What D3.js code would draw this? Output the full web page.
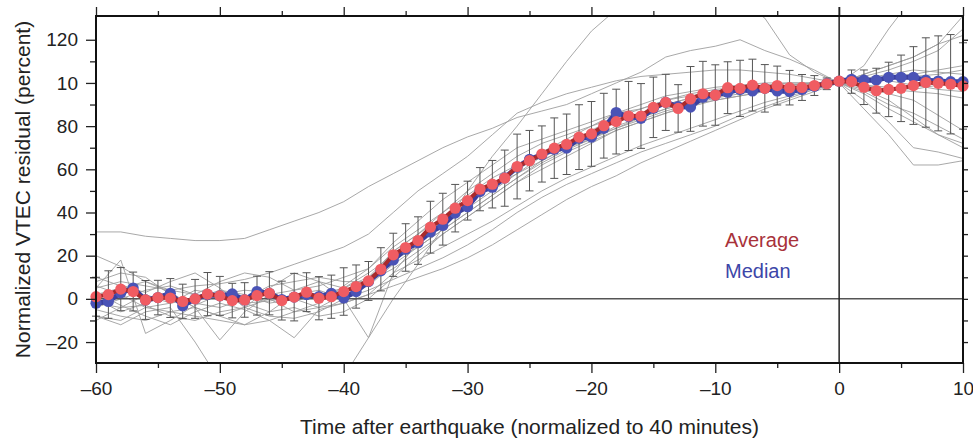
<!DOCTYPE html>
<html>
<head>
<meta charset="utf-8">
<script src="https://d3js.org/d3.v7.min.js"></script>
<style>
  body { margin: 0; background: #fff; }
  svg { display: block; font-family: 'Liberation Sans', Arial, sans-serif; }
</style>
</head>
<body>
<div id="holder"></div>
<script>
  // Minutes for average / median points
  const minutes = [-60,-59,-58,-57,-56,-55,-54,-53,-52,-51,-50,-49,-48,-47,-46,-45,-44,-43,-42,-41,
    -40,-39,-38,-37,-36,-35,-34,-33,-32,-31,-30,-29,-28,-27,-26,-25,-24,-23,-22,-21,
    -20,-19,-18,-17,-16,-15,-14,-13,-12,-11,-10,-9,-8,-7,-6,-5,-4,-3,-2,-1,
    0,1,2,3,4,5,6,7,8,9,10];

  const average = [1,2,4.5,3.4,-0.5,0.6,0.4,-1.2,0,2.2,1.4,-0.8,-0.5,1.5,2.6,-0.8,0.8,3.1,0.3,1,
    3.4,5.7,8.3,13.7,20.4,23.8,27,33.2,36.9,42,45.5,50.8,53.1,55.9,61.3,64,67.1,69.8,71.6,74.9,
    76.4,80.2,82.1,84.7,84.7,88.7,91,88.2,92.6,95,94.4,97.8,97.5,99,97.5,98.8,97.8,97.9,98.8,99.6,
    100.8,100.6,98,96.4,97,97.5,98.8,100.2,99.8,99.4,98.6];

  const median = [-2,-1.2,2.8,5,-0.5,0.6,2.6,-3.2,0,2,1.4,2.3,-0.5,3.4,2.6,-0.3,0.8,2,1,2.5,
    0.4,3.4,8,13,18,23,26,31,34,39.7,42.7,49.7,51.7,56,61,64.6,66.7,69.3,69.8,74.4,
    74.9,79,86.3,84.4,83.6,88.3,91,89,88.8,93.4,94.4,95.7,97,96.3,97.5,96.3,96,97,98.5,99.7,
    100.8,101.7,101.3,101.3,102.6,102.6,102.6,101.3,100.9,100.6,100.6];

  const errors = [9,11,10,9,9,8,9,8,9,10,9,8,8,9,10,9,11,9,10,10,
    11,10,9,10,10,11,11,12,12,11,9,10,11,13,15,14,13,14,14,15,
    15,15,15,16,15,14,13,11,15,15,14,12,13,12,11,9,8,6,4.6,2.7,
    1,5.4,8,10.4,12.6,15.4,18,20.7,22,23,20];

  // Individual events, sampled every 2 minutes
  const eventMinutes = [-60,-58,-56,-54,-52,-50,-48,-46,-44,-42,-40,-38,-36,-34,-32,-30,-28,-26,
    -24,-22,-20,-18,-16,-14,-12,-10,-8,-6,-4,-2,0,2,4,6,8,10];

  const ev01 = [31,31,29,28,27,27,28,32,36,40,45,52,58,64,70,75,79,84,87,90,95,100,105,112,115,117,120,115,111,106,100,104,108,112,118,122];
  const ev02 = [5,8,6,4,6,7,9,12,16,20,24,30,40,50,58,66,76,86,91,95,98,101,103,104,105,106,106,105,104,102,100,101,103,104,106,108];
  const ev03 = [-8,-12,-6,-4,-20,-38,-50,-55,-55,-50,-36,-18,0,16,33,50,66,80,95,110,124,134,140,144,146,143,138,130,113,105,100,96,90,86,80,74];
  const ev04 = [20,15,8,4,2,0,-2,-1,1,2,4,8,14,22,30,38,46,54,62,68,73,78,82,86,89,92,94,96,97,99,100,97,92,84,76,70];
  const ev05 = [5,18,-16,-10,-3,2,4,3,-1,2,5,10,18,24,32,40,48,56,63,69,74,79,84,88,91,94,96,97,98,99,100,99,98,97,99,101];
  const ev06 = [-5,-8,-10,-6,-4,-8,-12,-10,-6,-4,-2,2,6,10,14,19,25,32,39,46,52,57,63,68,73,78,83,88,92,96,100,102,104,106,105,104];
  const ev07 = [-2,-4,-3,-8,-10,-6,-4,-8,-9,-6,0,4,9,14,19,25,32,40,47,53,58,63,68,72,76,80,85,89,93,97,100,98,95,92,85,78];
  const ev08 = [3,-3,-8,-12,-6,-2,-5,-10,-18,-5,-2,2,12,18,24,30,36,43,50,56,61,66,71,75,79,83,87,91,94,97,100,101,102,103,104,106];
  const ev09 = [2,5,8,3,-4,-19,-6,2,4,8,5,12,20,28,36,44,52,60,66,70,74,80,84,88,91,94,96,97,98,99,100,88,76,62,62,64];
  const ev10 = [10,6,3,8,12,5,-4,5,12,8,0,-18,12,26,34,42,50,58,66,72,78,84,86,90,93,95,97,98,99,99,100,92,82,70,68,65];
  const ev11 = [-4,0,4,6,2,8,12,10,4,6,10,14,24,32,40,48,56,62,68,74,80,86,90,94,96,98,99,100,100,100,100,95,88,82,76,72];
  const ev12 = [8,12,10,2,-2,-4,0,6,8,10,8,8,22,30,40,50,58,66,72,76,80,84,88,92,95,97,98,98,99,100,100,108,125,140,150,150];
  const ev13 = [0,-6,-2,2,-4,-8,-4,0,-6,-2,6,14,26,36,46,54,62,70,74,78,82,86,88,92,94,96,97,98,99,100,100,104,108,112,118,131];
  const ev14 = [-10,-4,2,-2,4,2,-2,-6,2,4,0,10,22,30,38,46,52,58,64,70,76,82,86,90,93,96,98,99,100,100,100,103,106,110,115,125];
  const ev15 = [6,2,-4,-2,0,4,2,-2,0,-4,2,6,16,24,32,40,48,56,64,70,75,79,83,87,90,92,94,96,98,99,100,102,101,99,97,96];
  const ev16 = [-8,-10,-4,-6,-8,-10,-12,-6,-4,-8,-6,0,10,20,30,38,46,54,60,66,72,78,82,86,90,93,95,97,98,99,100,99,97,96,95,93];

  const events = [ev01,ev02,ev03,ev04,ev05,ev06,ev07,ev08,ev09,ev10,ev11,ev12,ev13,ev14,ev15,ev16];

  const yTicks = [-20,0,20,40,60,80,100,120];
  const yTickLabels = ['\u201320','0','20','40','60','80','10','120'];
  const yMinor = [-10,10,30,50,70,90,110];
  const yRight = [-20,-10,0,10,20,30,40,50,60,70,80,90,100,110,120];
  const xTicks = [-60,-50,-40,-30,-20,-10,0,10];
  const xMinor = [-55,-45,-35,-25,-15,-5,5];

  const w = 973;
  const h = 440;
  const margin = { left: 96, right: 10, top: 16, bottom: 77 };

  const xScale = d3.scaleLinear().domain([-60, 10]).range([margin.left, w - margin.right]);
  const yScale = d3.scaleLinear().domain([-29.7, 131]).range([h - margin.bottom, margin.top]);

  const svg = d3.select('#holder').append('svg').attr('width', w).attr('height', h);

  svg.append('clipPath').attr('id', 'plot-clip')
    .append('rect')
    .attr('x', margin.left).attr('y', margin.top)
    .attr('width', xScale(10) - margin.left)
    .attr('height', yScale(-29.7) - margin.top);

  // Individual traces
  const traceLine = d3.line()
    .x((d, i) => xScale(eventMinutes[i]))
    .y((d) => yScale(d));

  svg.append('g')
    .attr('clip-path', 'url(#plot-clip)')
    .selectAll('path')
    .data(events)
    .enter()
    .append('path')
    .attr('d', traceLine)
    .attr('fill', 'none')
    .attr('stroke', '#9e9e9e')
    .attr('stroke-width', 0.9);

  // Zero lines
  svg.append('line')
    .attr('x1', xScale(-60)).attr('x2', xScale(10))
    .attr('y1', yScale(0)).attr('y2', yScale(0))
    .attr('stroke', '#555').attr('stroke-width', 1.5);

  svg.append('line')
    .attr('x1', xScale(0)).attr('x2', xScale(0))
    .attr('y1', yScale(-29.7)).attr('y2', margin.top - 9)
    .attr('stroke', '#222').attr('stroke-width', 1.5);

  // Error bars
  const bars = svg.append('g').attr('stroke', '#555').attr('stroke-width', 1);
  minutes.forEach((m, i) => {
    const x = xScale(m);
    const lo = yScale(average[i] - errors[i]);
    const hi = yScale(average[i] + errors[i]);
    bars.append('line').attr('x1', x).attr('x2', x).attr('y1', lo).attr('y2', hi);
    bars.append('line').attr('x1', x - 4).attr('x2', x + 4).attr('y1', lo).attr('y2', lo);
    bars.append('line').attr('x1', x - 4).attr('x2', x + 4).attr('y1', hi).attr('y2', hi);
  });

  // Median then average
  const seriesLine = d3.line()
    .x((d, i) => xScale(minutes[i]))
    .y((d) => yScale(d));

  function drawSeries(values, lineColor, dotColor, lineWidth) {
    svg.append('path')
      .datum(values)
      .attr('d', seriesLine)
      .attr('fill', 'none')
      .attr('stroke', lineColor)
      .attr('stroke-width', lineWidth)
      .attr('stroke-linejoin', 'round');

    svg.append('g')
      .selectAll('circle')
      .data(values)
      .enter()
      .append('circle')
      .attr('cx', (d, i) => xScale(minutes[i]))
      .attr('cy', (d) => yScale(d))
      .attr('r', 5.6)
      .attr('fill', dotColor);
  }

  drawSeries(median, '#3a3f9e', '#4a53b6', 5);
  drawSeries(average, '#a82a2c', '#f05c62', 4);

  // Axes
  function styleAxis(g) {
    g.select('.domain').remove();
    g.selectAll('.tick line').attr('stroke', '#222').attr('stroke-width', 1.3);
    g.selectAll('.tick text').attr('fill', '#222').style('font-size', '19px');
  }

  svg.append('g')
    .attr('transform', 'translate(' + margin.left + ',0)')
    .call(d3.axisLeft(yScale).tickValues(yTicks).tickSize(10).tickPadding(8)
      .tickFormat((d, i) => yTickLabels[i]))
    .call(styleAxis);

  svg.append('g')
    .attr('transform', 'translate(' + margin.left + ',0)')
    .call(d3.axisLeft(yScale).tickValues(yMinor).tickSize(6).tickFormat(''))
    .call(styleAxis);

  svg.append('g')
    .attr('transform', 'translate(' + (w - margin.right) + ',0)')
    .call(d3.axisRight(yScale).tickValues(yRight).tickSize(5).tickFormat(''))
    .call(styleAxis);

  svg.append('g')
    .attr('transform', 'translate(0,' + (h - margin.bottom) + ')')
    .call(d3.axisBottom(xScale).tickValues(xTicks).tickSize(10).tickPadding(9)
      .tickFormat((d) => (d < 0 ? '\u2013' + Math.abs(d) : d)))
    .call(styleAxis);

  svg.append('g')
    .attr('transform', 'translate(0,' + (h - margin.bottom) + ')')
    .call(d3.axisBottom(xScale).tickValues(xMinor).tickSize(5).tickFormat(''))
    .call(styleAxis);

  svg.append('g')
    .attr('transform', 'translate(0,' + margin.top + ')')
    .call(d3.axisTop(xScale).tickValues(xTicks).tickSize(9).tickFormat(''))
    .call(styleAxis);

  svg.append('g')
    .attr('transform', 'translate(0,' + margin.top + ')')
    .call(d3.axisTop(xScale).tickValues(xMinor).tickSize(5).tickFormat(''))
    .call(styleAxis);

  // Frame
  svg.append('rect')
    .attr('x', margin.left).attr('y', margin.top)
    .attr('width', xScale(10) - margin.left)
    .attr('height', yScale(-29.7) - margin.top)
    .attr('fill', 'none')
    .attr('stroke', '#111')
    .attr('stroke-width', 2);

  // Labels
  svg.append('text')
    .attr('x', (margin.left + xScale(10)) / 2)
    .attr('y', 434)
    .attr('text-anchor', 'middle')
    .style('font-size', '21px')
    .attr('fill', '#222')
    .text('Time after earthquake (normalized to 40 minutes)');

  svg.append('text')
    .attr('transform', 'rotate(-90)')
    .attr('x', -(margin.top + yScale(-29.7)) / 2)
    .attr('y', 30)
    .attr('text-anchor', 'middle')
    .style('font-size', '21px')
    .attr('fill', '#222')
    .text('Normalized VTEC residual (percent)');

  // Legend
  svg.append('text')
    .attr('x', 725).attr('y', 247)
    .style('font-size', '20px')
    .attr('fill', '#a8323a')
    .text('Average');

  svg.append('text')
    .attr('x', 725).attr('y', 278)
    .style('font-size', '20px')
    .attr('fill', '#3c46a8')
    .text('Median');
</script>
</body>
</html>
